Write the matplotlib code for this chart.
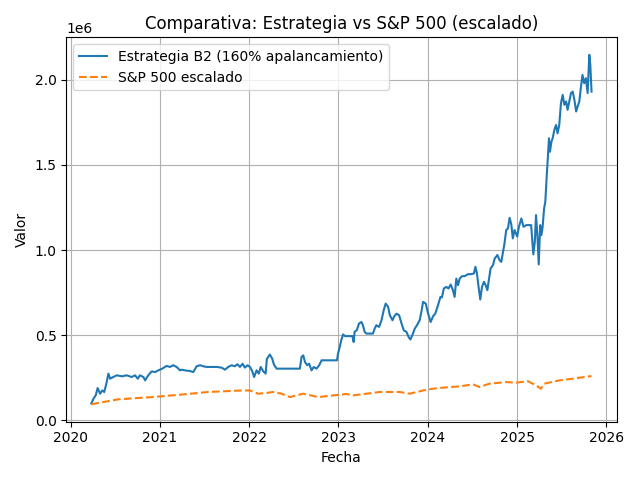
import pandas as pd
import matplotlib
matplotlib.use("Agg")
import matplotlib.pyplot as plt

# Valor de la estrategia
estrategia_fechas = [
    "2020-03-26", "2020-04-04", "2020-04-13", "2020-04-21", "2020-05-01", "2020-05-10",
    "2020-05-18", "2020-05-28", "2020-06-04", "2020-06-11", "2020-06-24", "2020-07-08",
    "2020-07-29", "2020-08-18", "2020-09-07", "2020-09-21", "2020-10-02", "2020-10-11",
    "2020-10-25", "2020-11-01", "2020-11-14", "2020-11-28", "2020-12-12", "2020-12-25",
    "2021-01-10", "2021-01-28", "2021-02-11", "2021-02-24", "2021-03-10", "2021-03-17",
    "2021-03-24", "2021-03-31", "2021-04-13", "2021-05-04", "2021-05-17", "2021-05-31",
    "2021-06-14", "2021-06-27", "2021-07-11", "2021-07-31", "2021-08-21", "2021-09-10",
    "2021-09-24", "2021-10-07", "2021-10-21", "2021-11-03", "2021-11-14", "2021-11-24",
    "2021-12-05", "2021-12-14", "2021-12-25", "2022-01-04", "2022-01-13", "2022-01-21",
    "2022-01-31", "2022-02-09", "2022-02-17", "2022-02-27", "2022-03-09", "2022-03-14",
    "2022-03-26", "2022-04-05", "2022-04-12", "2022-04-23", "2022-07-27", "2022-08-03",
    "2022-08-10", "2022-08-17", "2022-08-26", "2022-09-03", "2022-09-13", "2022-09-22",
    "2022-10-03", "2022-10-14", "2022-10-24", "2022-12-26", "2022-12-30", "2023-01-06",
    "2023-01-13", "2023-01-20", "2023-01-28", "2023-02-27", "2023-03-04", "2023-03-08",
    "2023-03-17", "2023-03-26", "2023-04-05", "2023-04-11", "2023-04-18", "2023-04-25",
    "2023-05-22", "2023-05-29", "2023-06-05", "2023-06-16", "2023-06-26", "2023-07-05",
    "2023-07-13", "2023-07-23", "2023-07-30", "2023-08-10", "2023-08-16", "2023-08-26",
    "2023-09-06", "2023-09-16", "2023-09-25", "2023-10-06", "2023-10-15", "2023-10-22",
    "2023-10-30", "2023-11-09", "2023-11-18", "2023-11-29", "2023-12-06", "2023-12-13",
    "2023-12-24", "2024-01-02", "2024-01-13", "2024-01-23", "2024-02-01", "2024-02-12",
    "2024-02-22", "2024-02-28", "2024-03-07", "2024-03-17", "2024-03-26", "2024-04-04",
    "2024-04-13", "2024-04-20", "2024-04-27", "2024-05-04", "2024-05-11", "2024-05-20",
    "2024-05-31", "2024-06-14", "2024-06-27", "2024-07-08", "2024-07-14", "2024-07-20",
    "2024-07-27", "2024-08-03", "2024-08-10", "2024-08-18", "2024-08-25", "2024-09-01",
    "2024-09-07", "2024-09-14", "2024-09-24", "2024-10-01", "2024-10-12", "2024-10-21",
    "2024-10-28", "2024-11-04", "2024-11-10", "2024-11-17", "2024-11-24", "2024-12-01",
    "2024-12-08", "2024-12-14", "2024-12-21", "2025-01-01", "2025-01-08", "2025-01-18",
    "2025-01-27", "2025-02-07", "2025-02-27", "2025-03-03", "2025-03-08", "2025-03-14",
    "2025-03-19", "2025-03-25", "2025-03-30", "2025-04-05", "2025-04-10", "2025-04-15",
    "2025-04-21", "2025-04-26", "2025-05-02", "2025-05-07", "2025-05-11", "2025-05-15",
    "2025-05-21", "2025-05-26", "2025-06-02", "2025-06-09", "2025-06-15", "2025-06-22",
    "2025-06-29", "2025-07-06", "2025-07-13", "2025-07-20", "2025-07-26", "2025-08-02",
    "2025-08-09", "2025-08-16", "2025-08-23", "2025-08-30", "2025-09-05", "2025-09-12",
    "2025-09-19", "2025-09-25", "2025-10-02", "2025-10-09", "2025-10-16", "2025-10-23",
    "2025-10-27", "2025-11-01",
]
estrategia_valor = [
    100000, 128000, 147000, 190000, 157000, 176000,
    167000, 225000, 275000, 245000, 255000, 265000,
    259000, 265000, 255000, 265000, 245000, 265000,
    255000, 235000, 265000, 288000, 284000, 294000,
    304000, 320000, 314000, 324000, 314000, 304000,
    294000, 298000, 294000, 290000, 284000, 318000,
    324000, 318000, 314000, 314000, 314000, 310000,
    298000, 314000, 324000, 318000, 330000, 314000,
    333000, 310000, 324000, 314000, 290000, 255000,
    294000, 275000, 314000, 289000, 275000, 360000,
    387000, 363000, 328000, 304000, 304000, 373000,
    382000, 343000, 324000, 333000, 294000, 314000,
    304000, 324000, 353000, 353000, 392000, 431000,
    475000, 505000, 495000, 495000, 461000, 520000,
    530000, 569000, 578000, 559000, 520000, 510000,
    510000, 539000, 559000, 549000, 588000, 647000,
    686000, 667000, 618000, 588000, 608000, 627000,
    618000, 569000, 529000, 520000, 490000, 475000,
    500000, 539000, 559000, 588000, 637000, 696000,
    686000, 630000, 578000, 612000, 627000, 676000,
    725000, 722000, 775000, 784000, 775000, 798000,
    765000, 725000, 833000, 794000, 833000, 847000,
    847000, 859000, 859000, 863000, 902000, 867000,
    784000, 710000, 784000, 814000, 794000, 765000,
    824000, 892000, 912000, 951000, 971000, 941000,
    931000, 990000, 1039000, 1118000, 1127000, 1190000,
    1150000, 1069000, 1118000, 1080000, 1137000, 1186000,
    1137000, 1147000, 1147000, 1069000, 975000, 1049000,
    1206000, 1078000, 916000, 1147000, 1088000, 1137000,
    1245000, 1284000, 1441000, 1559000, 1657000, 1578000,
    1637000, 1657000, 1706000, 1735000, 1686000, 1735000,
    1863000, 1912000, 1853000, 1873000, 1824000, 1873000,
    1922000, 1931000, 1882000, 1814000, 1843000, 1873000,
    1961000, 2029000, 1980000, 2010000, 1922000, 2147000,
    2088000, 1931000,
]

# S&P 500 escalado
sp_fechas = [
    "2020-03-26", "2020-07-15", "2020-11-28", "2021-03-24", "2021-07-17", "2021-12-01",
    "2022-01-04", "2022-02-06", "2022-03-06", "2022-04-09", "2022-05-13", "2022-06-16",
    "2022-08-10", "2022-10-10", "2022-12-10", "2023-02-03", "2023-03-02", "2023-06-19",
    "2023-09-08", "2023-10-19", "2023-12-26", "2024-02-12", "2024-05-11", "2024-07-04",
    "2024-07-31", "2024-09-10", "2024-11-17", "2024-12-29", "2025-02-14", "2025-03-19",
    "2025-04-08", "2025-04-22", "2025-06-22", "2025-08-16", "2025-10-23", "2025-11-01",
]
sp_valor = [
    95000, 124000, 137000, 151000, 167000, 176000,
    176000, 157000, 160000, 167000, 157000, 137000,
    157000, 137000, 147000, 155000, 147000, 167000,
    167000, 157000, 180000, 190000, 200000, 212000,
    196000, 216000, 225000, 222000, 230000, 206000,
    186000, 216000, 235000, 245000, 259000, 260000,
]

fechas_e = pd.to_datetime(estrategia_fechas)
fechas_s = pd.to_datetime(sp_fechas)

fig, ax = plt.subplots(figsize=(6.4, 4.8), dpi=100)
ax.plot(fechas_e, estrategia_valor, label="Estrategia B2 (160% apalancamiento)")
ax.plot(fechas_s, sp_valor, "--", label="S&P 500 escalado")
ax.set_title("Comparativa: Estrategia vs S&P 500 (escalado)")
ax.set_xlabel("Fecha")
ax.set_ylabel("Valor")
ax.legend(loc="upper left")
ax.grid(True)
fig.tight_layout()
fig.savefig("out.png", dpi=100)
